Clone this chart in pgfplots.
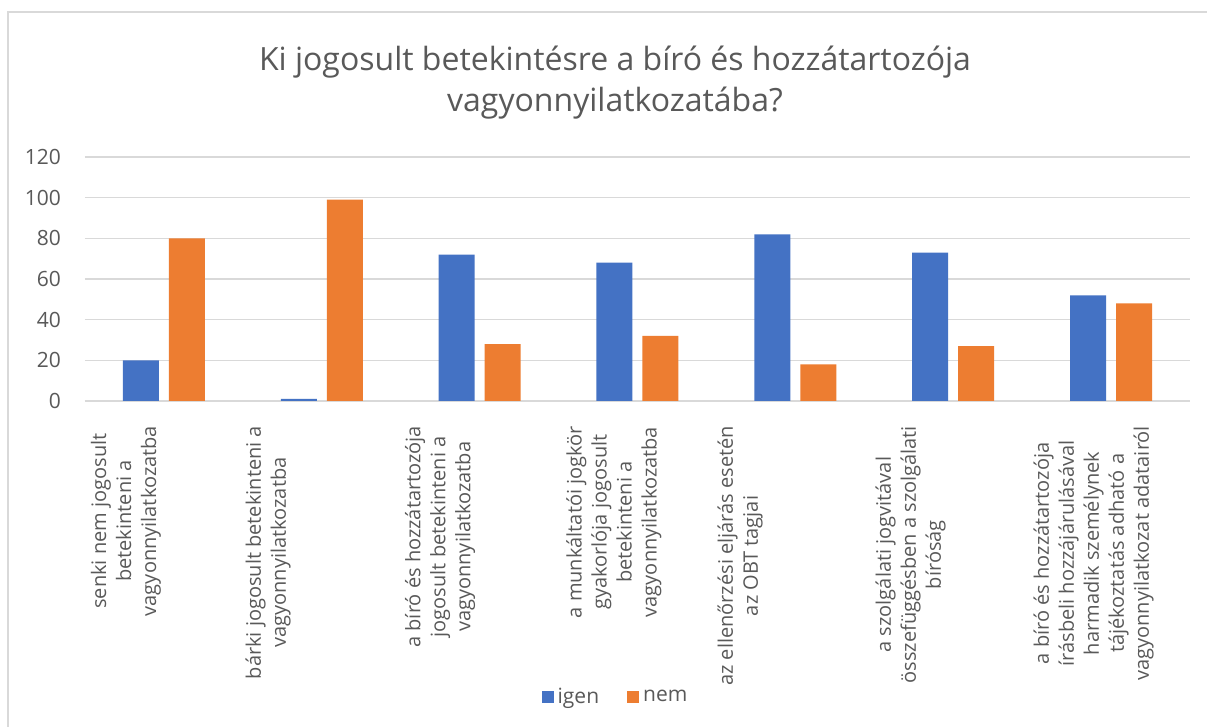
\documentclass[border=0pt]{standalone}
\usepackage{fontspec}
\setmainfont{Open Sans}
\usepackage{pgfplots}
\pgfplotsset{compat=1.18}
\definecolor{cblue}{HTML}{4472C4}
\definecolor{corange}{HTML}{ED7D31}
\definecolor{cgrid}{HTML}{D9D9D9}
\definecolor{ctext}{HTML}{595959}
\begin{document}
\begin{tikzpicture}
\useasboundingbox (0,0) rectangle (603.5pt,363.5pt);
\fill[white] (0,0) rectangle (603.5pt,363.5pt);
\draw[cgrid, line width=1pt] (4pt,0) -- (4pt,357.5pt) -- (603.5pt,357.5pt);
\node[align=center, text=ctext, font=\fontsize{16}{20.5}\selectfont] at (307.5pt,322pt) {Ki jogosult betekintésre a bíró és hozzátartozója\\vagyonnyilatkozatába?};
\begin{axis}[
  at={(42.5pt,163pt)}, anchor=south west,
  scale only axis, width=552.5pt, height=122pt,
  ybar=5pt, bar width=18pt,
  xmin=-0.5, xmax=6.5, ymin=0, ymax=120,
  ytick={0,20,...,120},
  xtick={-0.24,0.66,1.75,2.85,3.65,4.73,5.89},
  xticklabels={
    {senki nem jogosult\\betekinteni a\\vagyonnyilatkozatba},
    {bárki jogosult betekinteni a\\vagyonnyilatkozatba},
    {a bíró és hozzátartozója\\jogosult betekinteni a\\vagyonnyilatkozatba},
    {a munkáltatói jogkör\\gyakorlója jogosult\\betekinteni a\\vagyonnyilatkozatba},
    {az ellenőrzési eljárás esetén\\az OBT tagjai},
    {a szolgálati jogvitával\\összefüggésben a szolgálati\\bíróság},
    {a bíró és hozzátartozója\\írásbeli hozzájárulásával\\harmadik személynek\\tájékoztatás adható a\\vagyonnyilatkozat adatairól}},
  major tick length=0pt,
  axis x line*=bottom, axis y line*=left,
  x axis line style={cgrid, line width=0.75pt, -},
  y axis line style={draw=none},
  ymajorgrids, grid style={cgrid, line width=0.75pt},
  /pgf/number format/assume math mode=true,
  yticklabel style={text=ctext, font=\fontsize{10.5}{12}\selectfont, anchor=east, xshift=-8.5pt},
  xticklabel style={text=ctext, font=\fontsize{10}{12.5}\selectfont, rotate=90, anchor=east, align=center},
  xticklabel shift=9pt,
  legend columns=2,
  legend style={at={(0.481,-1.215)}, anchor=center, draw=none, fill=none,
    font=\fontsize{10.5}{12}\selectfont, text=ctext,
    /tikz/every even column/.append style={column sep=12pt}},
  legend image code/.code={\fill[#1] (-1pt,-3pt) rectangle (5pt,3pt);},
]
\addplot[fill=cblue, draw=none] coordinates {(0,20) (1,1) (2,72) (3,68) (4,82) (5,73) (6,52)};
\addplot[fill=corange, draw=none] coordinates {(0,80) (1,99) (2,28) (3,32) (4,18) (5,27) (6,48)};
\legend{igen,nem}
\end{axis}
\end{tikzpicture}
\end{document}
